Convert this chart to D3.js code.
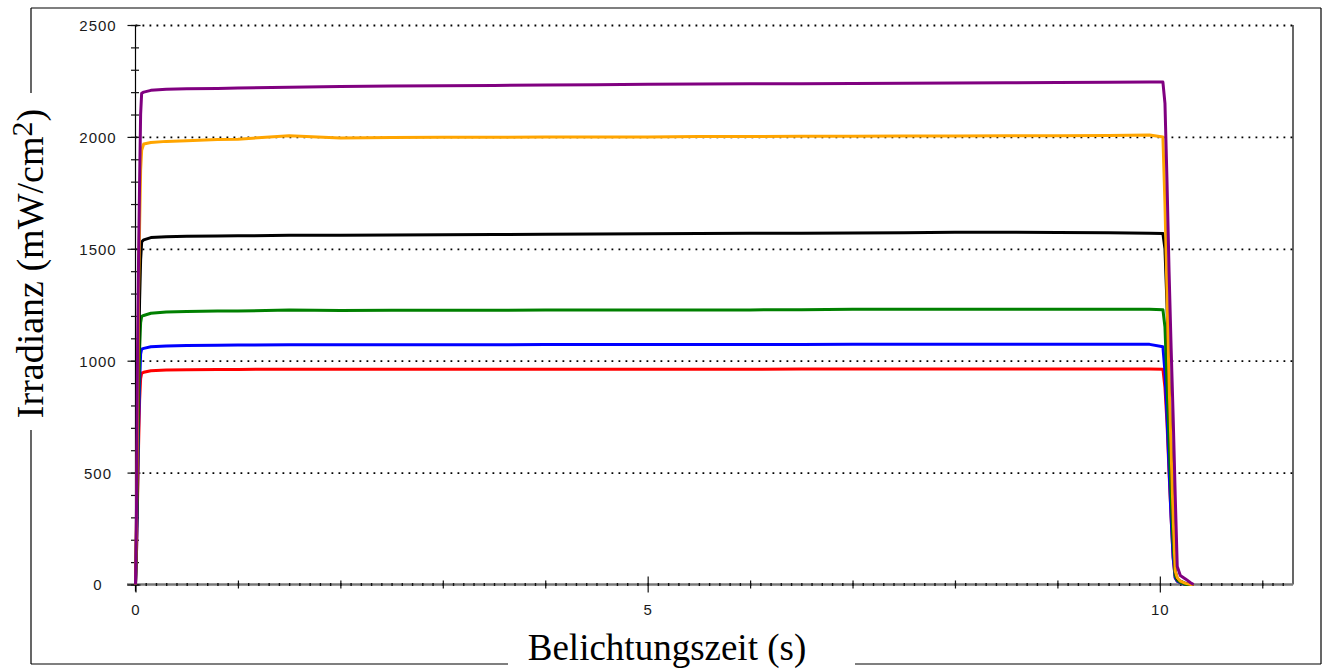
<!DOCTYPE html>
<html>
<head>
<meta charset="utf-8">
<script src="https://cdn.jsdelivr.net/npm/d3@7"></script>
<style>
  html, body { margin: 0; padding: 0; background: #fff; }
  svg { display: block; }
</style>
</head>
<body>
<svg id="chart" width="1328" height="670"></svg>
<script>
// ---------------- DATA ----------------
const xTickValues = [0, 5, 10];
const xTickLabels = ["0", "5", "10"];
const yTickValues = [0, 500, 1000, 1500, 2000, 2500];
const yTickLabels = ["0", "500", "1000", "1500", "2000", "2500"];
const yGridValues = [500, 1000, 1500, 2000, 2500];

const timeS = [0, 0.01, 0.02, 0.03, 0.04, 0.05, 0.06, 0.08, 0.15, 0.3, 0.5, 0.8, 1.0, 1.5, 2, 2.5, 3, 3.5, 4, 4.5,
  5, 5.5, 6, 6.5, 7, 7.5, 8, 8.5, 9, 9.5, 9.9, 10.03, 10.05, 10.07, 10.09, 10.11, 10.13, 10.15, 10.17, 10.2, 10.25, 10.3, 10.33];

const redVals    = [0, 150, 380, 620, 820, 920, 944, 948, 955, 958, 960, 961, 961, 962, 962, 962, 962, 962, 962, 962,
  962, 962, 962, 963, 963, 963, 963, 963, 963, 963, 963, 962, 880, 720, 500, 300, 120, 30, 15, 8, 0, 0, 0];
const blueVals   = [0, 150, 420, 700, 900, 1030, 1052, 1055, 1062, 1066, 1068, 1069, 1070, 1071, 1071, 1071, 1071, 1071, 1072, 1072,
  1072, 1072, 1072, 1072, 1073, 1073, 1073, 1073, 1073, 1073, 1073, 1062, 950, 750, 520, 300, 120, 30, 15, 8, 0, 0, 0];
const greenVals  = [0, 200, 500, 800, 1050, 1170, 1198, 1202, 1212, 1218, 1220, 1222, 1222, 1226, 1224, 1225, 1225, 1225, 1226, 1226,
  1226, 1226, 1227, 1228, 1230, 1230, 1230, 1230, 1230, 1230, 1230, 1228, 1150, 900, 650, 400, 180, 40, 20, 10, 0, 0, 0];
const blackVals  = [0, 250, 600, 1000, 1270, 1450, 1530, 1540, 1550, 1554, 1556, 1557, 1558, 1560, 1561, 1562, 1563, 1564, 1565, 1566,
  1567, 1568, 1569, 1570, 1571, 1572, 1574, 1574, 1573, 1572, 1570, 1568, 1500, 1250, 900, 600, 300, 60, 25, 15, 5, 0, 0];
const orangeVals = [0, 300, 700, 1300, 1600, 1850, 1940, 1968, 1975, 1980, 1983, 1988, 1990, 2005, 1995, 1997, 1998, 1998, 2000, 2000,
  2000, 2002, 2002, 2003, 2003, 2004, 2004, 2005, 2005, 2006, 2008, 2000, 1700, 1300, 900, 600, 300, 60, 30, 15, 5, 0, 0];
const purpleVals = [0, 350, 1050, 1460, 1800, 2100, 2195, 2200, 2208, 2213, 2215, 2216, 2218, 2222, 2225, 2227, 2228, 2230, 2232, 2233,
  2235, 2236, 2237, 2238, 2239, 2240, 2241, 2242, 2243, 2244, 2245, 2245, 2150, 1800, 1400, 1060, 750, 400, 80, 40, 25, 8, 0];

const seriesNames = ["red", "blue", "green", "black", "orange", "purple"];
const seriesValues = [redVals, blueVals, greenVals, blackVals, orangeVals, purpleVals];
const seriesColors = ["#ff0000", "#0000ff", "#008000", "#000000", "#ffa500", "#800080"];

const xTitle = "Belichtungszeit (s)";

// ---------------- LAYOUT ----------------
const svg = d3.select("#chart");
const pLeft = 135.5, pRight = 1293, pTop = 25, pBottom = 584.5;
const x = d3.scaleLinear().domain([0, 11.3]).range([pLeft, pRight]);
const y = d3.scaleLinear().domain([0, 2500]).range([pBottom, pTop]);

// outer frame with breaks for titles
const frame = svg.append("g").attr("stroke", "#000").attr("stroke-width", 1.2).attr("fill", "none");
[[31, 8, 1321, 8], [1321, 8, 1321, 664], [1321, 664, 855, 664], [508, 664, 31, 664],
 [31, 664, 31, 430], [31, 93, 31, 8]].forEach(s => {
  frame.append("line").attr("x1", s[0]).attr("y1", s[1]).attr("x2", s[2]).attr("y2", s[3]);
});

// dotted gridlines
const grid = svg.append("g").attr("transform", `translate(${pLeft},0)`)
  .call(d3.axisLeft(y).tickValues(yGridValues).tickSize(-(pRight - pLeft)).tickFormat(""));
grid.select(".domain").remove();
grid.selectAll("line").attr("stroke", "#000").attr("stroke-width", 1.8).attr("stroke-dasharray", "1.8,5.2");

// right plot edge
svg.append("line").attr("x1", pRight).attr("x2", pRight).attr("y1", pTop).attr("y2", pBottom)
  .attr("stroke", "#000").attr("stroke-width", 1.2);

// x axis gray line
svg.append("line").attr("x1", 127).attr("x2", pRight).attr("y1", pBottom).attr("y2", pBottom)
  .attr("stroke", "#7a7a7a").attr("stroke-width", 2.4);

// x minor ticks every 0.1 s
const xMinor = d3.range(0, 113).map(i => i / 10);
svg.append("g").attr("transform", `translate(0,${pBottom + 1.5})`)
  .call(d3.axisBottom(x).tickValues(xMinor).tickSize(-3).tickFormat(""))
  .call(g => g.select(".domain").remove())
  .selectAll("line").attr("stroke", "#111").attr("stroke-width", 1.4);

// x integer ticks
const xInt = d3.range(0, 12);
svg.append("g").attr("transform", `translate(0,${pBottom - 4})`)
  .call(d3.axisBottom(x).tickValues(xInt).tickSize(8).tickFormat(""))
  .call(g => g.select(".domain").remove())
  .selectAll("line").attr("stroke", "#111").attr("stroke-width", 1.2)
  .attr("y1", d => (d % 5 === 0 ? -4 : 0)).attr("y2", d => (d % 5 === 0 ? 12 : 8));

// x tick labels
const xAx = svg.append("g").attr("transform", `translate(0,${pBottom})`)
  .call(d3.axisBottom(x).tickValues(xTickValues).tickSize(0).tickFormat((d, i) => xTickLabels[i]));
xAx.select(".domain").remove();
xAx.selectAll("text").attr("y", 0).attr("dy", "30")
  .attr("font-family", "'Liberation Sans', Arial, sans-serif").attr("font-size", 15)
  .attr("fill", "#1a1a1a").style("letter-spacing", "1px");

// y axis line
svg.append("line").attr("x1", pLeft).attr("x2", pLeft).attr("y1", pTop).attr("y2", pBottom + 7)
  .attr("stroke", "#000").attr("stroke-width", 1.2);

// y minor ticks every 100
const yMinor = d3.range(0, 2501, 100);
svg.append("g").attr("transform", `translate(${pLeft + 3.5},0)`)
  .call(d3.axisLeft(y).tickValues(yMinor).tickSize(8).tickFormat(""))
  .call(g => g.select(".domain").remove())
  .selectAll("line").attr("stroke", "#111").attr("stroke-width", 1.2);

// y major ticks + labels
const yAx = svg.append("g").attr("transform", `translate(${pLeft},0)`)
  .call(d3.axisLeft(y).tickValues(yTickValues).tickSize(8).tickFormat((d, i) => yTickLabels[i]));
yAx.select(".domain").remove();
yAx.selectAll("line").attr("stroke", "#111").attr("stroke-width", 1.2).attr("x2", -8).attr("x1", 5);
yAx.selectAll("text").attr("x", 98 - pLeft).attr("text-anchor", "middle").attr("dy", "0.36em")
  .attr("font-family", "'Liberation Sans', Arial, sans-serif").attr("font-size", 15)
  .attr("fill", "#1a1a1a").style("letter-spacing", "1px");

// series lines
const line = d3.line().x((d, i) => x(timeS[i])).y(d => y(d));
svg.append("g").selectAll("path").data(seriesValues).join("path")
  .attr("d", d => line(d))
  .attr("fill", "none")
  .attr("stroke", (d, i) => seriesColors[i])
  .attr("stroke-width", 3)
  .attr("stroke-linejoin", "round")
  .attr("class", (d, i) => "series-" + seriesNames[i]);

// titles
svg.append("text").attr("x", 667).attr("y", 660).attr("text-anchor", "middle")
  .attr("font-family", "'Liberation Serif', 'Times New Roman', serif").attr("font-size", 37)
  .attr("fill", "#000").text(xTitle);

const yt = svg.append("text").attr("transform", "translate(43,263.5) rotate(-90)").attr("text-anchor", "middle")
  .attr("font-family", "'Liberation Serif', 'Times New Roman', serif").attr("font-size", 38).attr("fill", "#000");
yt.append("tspan").text("Irradianz (mW/cm");
yt.append("tspan").attr("font-size", 30).attr("dy", -11).text("2");
yt.append("tspan").attr("dy", 11).text(")");
</script>
</body>
</html>
